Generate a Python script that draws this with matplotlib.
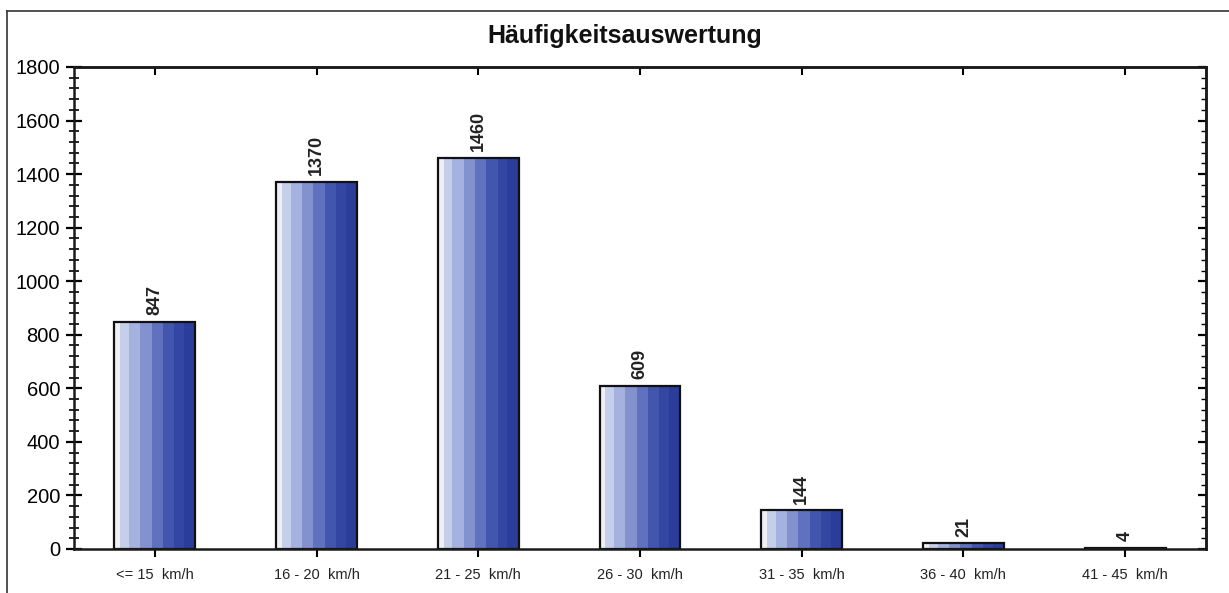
import numpy as np
import matplotlib
matplotlib.use("Agg")
import matplotlib.pyplot as plt
from matplotlib.lines import Line2D
from matplotlib.ticker import MultipleLocator

plt.rcParams['font.family'] = ['Liberation Sans', 'DejaVu Sans']

# Daten
categories = ["<= 15  km/h", "16 - 20  km/h", "21 - 25  km/h", "26 - 30  km/h",
              "31 - 35  km/h", "36 - 40  km/h", "41 - 45  km/h"]
counts = [847, 1370, 1460, 609, 144, 21, 4]
title = "Häufigkeitsauswertung"

# Streifen fuer den Farbverlauf (links hell -> rechts dunkel)
stripe_colors = ["#eef0f4", "#c6cfe9", "#a5b1de", "#8391ce", "#6072bf",
                 "#4356ad", "#3246a2", "#2a3d9b"]
stripe_widths = [0.035, 0.055, 0.07, 0.07, 0.07, 0.07, 0.06, 0.07]
bar_width = sum(stripe_widths)

fig = plt.figure(figsize=(12.29, 5.93), dpi=100)
ax = fig.add_axes([74 / 1229, 1 - 549 / 593, (1206 - 74) / 1229, (549 - 67) / 593])

x = np.arange(len(categories))
left = x - bar_width / 2
for w, c in zip(stripe_widths, stripe_colors):
    ax.bar(left, counts, width=w, align='edge', color=c, linewidth=0)
    left = left + w

# Umrandung der Balken
ax.bar(x, counts, width=bar_width, fill=False, edgecolor="#111111", linewidth=1.6)

for xi, v in zip(x, counts):
    ax.text(xi, v + 25, str(v), rotation=90, ha='center', va='bottom',
            fontsize=13, fontweight='bold', color="#222222")

ax.set_xlim(-0.5, len(categories) - 0.5)
ax.set_ylim(0, 1800)
ax.set_xticks(x)
ax.set_xticklabels(categories, fontsize=10.5, color="#222222")
ax.yaxis.set_major_locator(MultipleLocator(200))
ax.yaxis.set_minor_locator(MultipleLocator(40))
ax.tick_params(axis='y', which='major', direction='inout', length=12, width=1.6,
               labelsize=14.5, pad=4)
ax.tick_params(axis='y', which='minor', direction='inout', length=7, width=1.2)
ax.tick_params(axis='x', which='major', direction='out', length=6, width=1.5, pad=8)

# Achse oben: Ticks nach innen
top = ax.secondary_xaxis('top')
top.set_xticks(x)
top.tick_params(direction='in', length=6, width=1.5, labeltop=False)

# Achse rechts: Ticks nach innen
right = ax.secondary_yaxis('right')
right.yaxis.set_major_locator(MultipleLocator(200))
right.yaxis.set_minor_locator(MultipleLocator(40))
right.tick_params(which='major', direction='in', length=6, width=1.6, labelright=False)
right.tick_params(which='minor', direction='in', length=3.5, width=1.0)

for a in (ax, top, right):
    for s in a.spines.values():
        s.set_linewidth(1.8)
        s.set_color("#1a1a1a")

fig.text(625 / 1229, 1 - 36 / 593, title, ha='center', va='center',
         fontsize=18, fontweight='bold', color="#111111")

# Rahmen oben und links
fig.add_artist(Line2D([7 / 1229, 1], [1 - 11 / 593, 1 - 11 / 593],
                      transform=fig.transFigure, color="#333333", linewidth=1.2))
fig.add_artist(Line2D([7 / 1229, 7 / 1229], [0, 1 - 11 / 593],
                      transform=fig.transFigure, color="#333333", linewidth=1.2))

fig.savefig("out.png", dpi=100)
plt.close(fig)
